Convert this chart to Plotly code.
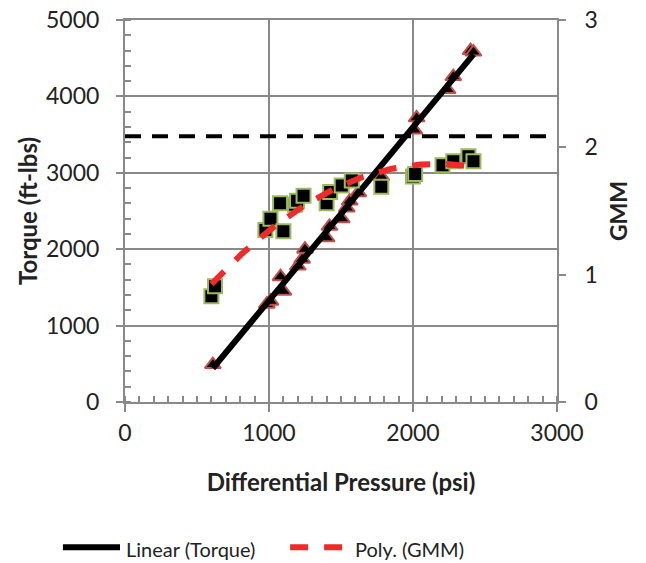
import numpy as np
import plotly.graph_objects as go

# ---- data ----
torque_pressure = [610, 985, 1010, 1100, 1080, 1200, 1230, 1250, 1400, 1420, 1505,
                   1540, 1560, 1620, 1780, 2010, 2025, 2240, 2280, 2400, 2420]
torque_values = [490, 1280, 1320, 1450, 1640, 1780, 1870, 2000, 2150, 2300, 2400,
                 2540, 2630, 2740, 2950, 3560, 3720, 4090, 4260, 4600, 4580]

gmm_pressure = [600, 625, 975, 1010, 1100, 1077, 1180, 1195, 1240, 1400, 1425,
                1505, 1575, 1780, 2000, 2015, 2205, 2280, 2385, 2420]
gmm_values = [0.83, 0.91, 1.35, 1.44, 1.34, 1.56, 1.55, 1.58, 1.62, 1.56, 1.65,
              1.70, 1.74, 1.69, 1.77, 1.79, 1.86, 1.89, 1.93, 1.89]

torque_limit = 3480
x_ticks = [0, 1000, 2000, 3000]
y_ticks = [0, 1000, 2000, 3000, 4000, 5000]
y2_ticks = [0, 1, 2, 3]

legend_labels = ["Linear (Torque)", "Poly. (GMM)"]

FONT = "Lato"
GRID = "#898989"
TXT = "#222222"

# trendlines (least-squares fits, as in the spreadsheet)
lin = np.polyfit(torque_pressure, torque_values, 1)
lx = np.linspace(min(torque_pressure), max(torque_pressure), 50)
ly = np.polyval(lin, lx)
poly = np.polyfit(gmm_pressure, gmm_values, 2)
px_ = np.linspace(min(gmm_pressure), max(gmm_pressure), 120)
py_ = np.polyval(poly, px_)

fig = go.Figure()

fig.add_trace(go.Scatter(
    x=torque_pressure, y=torque_values, mode="markers", name="Torque",
    marker=dict(symbol="triangle-up", size=14, color="black",
                line=dict(color="#c0504d", width=2)),
    showlegend=False))
fig.add_trace(go.Scatter(
    x=gmm_pressure, y=gmm_values, mode="markers", name="GMM", yaxis="y2",
    marker=dict(symbol="square", size=14, color="black",
                line=dict(color="#9bbb59", width=2)),
    showlegend=False))
fig.add_trace(go.Scatter(
    x=[0, 3000], y=[torque_limit, torque_limit], mode="lines",
    line=dict(color="black", width=4, dash="16px,11px"), showlegend=False,
    hoverinfo="skip"))
fig.add_trace(go.Scatter(
    x=lx, y=ly, mode="lines", name=legend_labels[0],
    line=dict(color="black", width=6), showlegend=False))
fig.add_trace(go.Scatter(
    x=px_, y=py_, mode="lines", name=legend_labels[1], yaxis="y2",
    line=dict(color="#ee2a2a", width=6, dash="18px,16px"), showlegend=False))

fig.update_layout(
    width=646, height=563,
    margin=dict(l=125, r=89, t=20, b=161, autoexpand=False),
    paper_bgcolor="white", plot_bgcolor="white",
    font=dict(family=FONT, size=23, color=TXT),
    xaxis=dict(
        range=[0, 3000], tickvals=x_ticks, ticktext=[str(v) for v in x_ticks],
        automargin=False,
        showgrid=True, gridcolor=GRID, gridwidth=2,
        showline=True, linecolor=GRID, linewidth=2, mirror=True,
        ticks="outside", ticklen=8, tickcolor=GRID, tickwidth=2,
        ticklabelstandoff=1,
        minor=dict(dtick=100, ticks="inside", ticklen=6, tickcolor=GRID,
                   tickwidth=1.5, showgrid=False),
        zeroline=False,
        title=dict(text="<b>Differential Pressure (psi)</b>",
                   font=dict(family=FONT, size=24, color=TXT), standoff=30),
    ),
    yaxis=dict(
        range=[0, 5000], tickvals=y_ticks, ticktext=[str(v) for v in y_ticks],
        automargin=False,
        showgrid=True, gridcolor=GRID, gridwidth=2,
        showline=True, linecolor=GRID, linewidth=2,
        ticks="outside", ticklen=7, tickcolor=GRID, tickwidth=2,
        ticklabelstandoff=12,
        minor=dict(dtick=200, ticks="inside", ticklen=6, tickcolor=GRID,
                   tickwidth=1.5, showgrid=False),
        zeroline=False,
        title=dict(text="<b>Torque (ft-lbs)</b>",
                   font=dict(family=FONT, size=24, color=TXT), standoff=2),
    ),
    yaxis2=dict(
        range=[0, 3], tickvals=y2_ticks, overlaying="y", side="right",
        automargin=False,
        showgrid=False, showline=True, linecolor=GRID, linewidth=2,
        ticks="outside", ticklen=7, tickcolor=GRID, tickwidth=2,
        ticklabelstandoff=14,
        zeroline=False,
        title=dict(text="<b>GMM</b>",
                   font=dict(family=FONT, size=23, color=TXT), standoff=14),
    ),
)

# legend drawn at the bottom (sample line + label)
line_y = (402.5 - 548) / 382.5
text_y = (402.5 - 550) / 382.5
fig.add_shape(type="line", xref="paper", yref="paper",
              x0=(63 - 125) / 431.7, x1=(120 - 125) / 431.7, y0=line_y, y1=line_y,
              line=dict(color="black", width=6))
fig.add_annotation(xref="paper", yref="paper", x=(124 - 125) / 431.7, y=text_y,
                   text=legend_labels[0], showarrow=False, xanchor="left",
                   yanchor="middle", font=dict(family=FONT, size=20, color=TXT))
fig.add_shape(type="line", xref="paper", yref="paper",
              x0=(290 - 125) / 431.7, x1=(343 - 125) / 431.7, y0=line_y, y1=line_y,
              line=dict(color="#ee2a2a", width=6, dash="18px,16px"))
fig.add_annotation(xref="paper", yref="paper", x=(353 - 125) / 431.7, y=text_y,
                   text=legend_labels[1], showarrow=False, xanchor="left",
                   yanchor="middle", font=dict(family=FONT, size=20, color=TXT))

fig.write_html("out.html")
